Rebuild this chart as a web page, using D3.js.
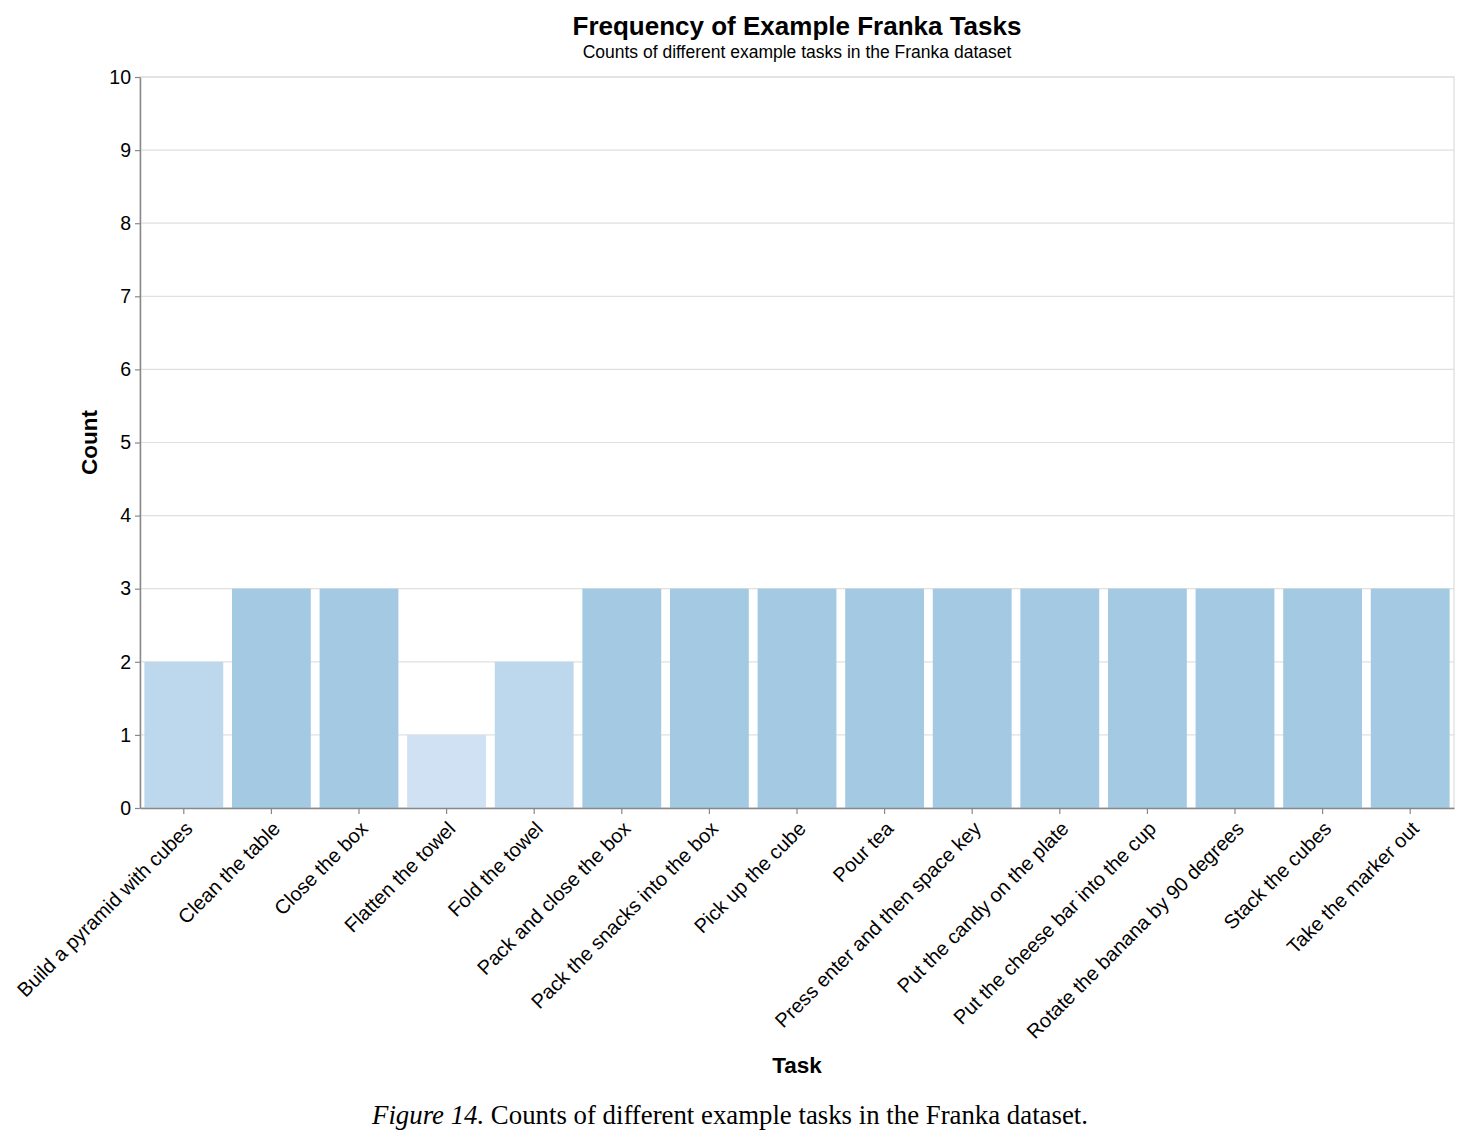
<!DOCTYPE html>
<html>
<head>
<meta charset="utf-8">
<script src="https://cdn.jsdelivr.net/npm/d3@7"></script>
<style>
  body { margin: 0; background: #fff; }
  svg { display: block; }
</style>
</head>
<body>
<svg id="chart" width="1477" height="1147"></svg>
<script>
const tasks = [
  "Build a pyramid with cubes", "Clean the table", "Close the box", "Flatten the towel",
  "Fold the towel", "Pack and close the box", "Pack the snacks into the box", "Pick up the cube",
  "Pour tea", "Press enter and then space key", "Put the candy on the plate",
  "Put the cheese bar into the cup", "Rotate the banana by 90 degrees", "Stack the cubes",
  "Take the marker out"
];
const counts = [2, 3, 3, 1, 2, 3, 3, 3, 3, 3, 3, 3, 3, 3, 3];
const countColours = { 1: "#cfe1f2", 2: "#bdd7ec", 3: "#a3cae2" };
const yTicks = [0, 1, 2, 3, 4, 5, 6, 7, 8, 9, 10];

const font = "'Liberation Sans', Arial, Helvetica, sans-serif";
const margin = { top: 77, right: 23, bottom: 339, left: 140 };
const width = 1477 - margin.left - margin.right;
const height = 1147 - margin.top - margin.bottom;

const svg = d3.select("#chart");
const g = svg.append("g").attr("transform", `translate(${margin.left},${margin.top})`);

const x = d3.scaleBand().domain(tasks).range([0, width]).paddingInner(0.1).paddingOuter(0.05);
const y = d3.scaleLinear().domain([0, 10]).range([height, 0]);

// grid
g.selectAll(".grid")
  .data(yTicks)
  .join("line")
  .attr("x1", 0).attr("x2", width)
  .attr("y1", d => y(d)).attr("y2", d => y(d))
  .attr("stroke", "#e0e0e0").attr("stroke-width", 1.2);

// view border
g.append("rect")
  .attr("width", width).attr("height", height)
  .attr("fill", "none").attr("stroke", "#dddddd").attr("stroke-width", 1.2);

// bars
g.selectAll(".bar")
  .data(tasks.map((t, i) => ({ task: t, count: counts[i] })))
  .join("rect")
  .attr("x", d => x(d.task))
  .attr("y", d => y(d.count))
  .attr("width", x.bandwidth())
  .attr("height", d => height - y(d.count))
  .attr("fill", d => countColours[d.count]);

// x axis
const xAxis = g.append("g")
  .attr("transform", `translate(0,${height})`)
  .call(d3.axisBottom(x).tickSizeInner(6).tickSizeOuter(0));
xAxis.select(".domain").attr("stroke", "#888").attr("stroke-width", 1.5);
xAxis.selectAll(".tick line").attr("stroke", "#888").attr("stroke-width", 1.2);
xAxis.selectAll(".tick text")
  .attr("font-family", font).attr("font-size", 20).attr("fill", "#000")
  .attr("text-anchor", "end")
  .attr("y", 0).attr("dy", 0)
  .attr("transform", "translate(10,22) rotate(-45)");

// y axis
const yAxis = g.append("g")
  .call(d3.axisLeft(y).tickValues(yTicks).tickSizeInner(5).tickSizeOuter(0).tickPadding(4));
yAxis.select(".domain").attr("stroke", "#888").attr("stroke-width", 1.5);
yAxis.selectAll(".tick line").attr("stroke", "#888").attr("stroke-width", 1.2);
yAxis.selectAll(".tick text")
  .attr("font-family", font).attr("font-size", 19.5).attr("fill", "#000");

// axis titles
svg.append("text")
  .attr("transform", `translate(97,${margin.top + height / 2}) rotate(-90)`)
  .attr("text-anchor", "middle")
  .attr("font-family", font).attr("font-weight", "bold").attr("font-size", 22.5)
  .text("Count");

svg.append("text")
  .attr("x", margin.left + width / 2).attr("y", 1073)
  .attr("text-anchor", "middle")
  .attr("font-family", font).attr("font-weight", "bold").attr("font-size", 22.5)
  .text("Task");

// title
svg.append("text")
  .attr("x", margin.left + width / 2).attr("y", 35)
  .attr("text-anchor", "middle")
  .attr("font-family", font).attr("font-weight", "bold").attr("font-size", 26)
  .text("Frequency of Example Franka Tasks");

svg.append("text")
  .attr("x", margin.left + width / 2).attr("y", 58)
  .attr("text-anchor", "middle")
  .attr("font-family", font).attr("font-size", 17.5)
  .text("Counts of different example tasks in the Franka dataset");

// caption
const caption = svg.append("text")
  .attr("x", 730).attr("y", 1124)
  .attr("text-anchor", "middle")
  .attr("font-family", "'Liberation Serif', 'Times New Roman', serif").attr("font-size", 26.8);
caption.append("tspan").attr("font-style", "italic").text("Figure 14.");
caption.append("tspan").text(" Counts of different example tasks in the Franka dataset.");
</script>
</body>
</html>
